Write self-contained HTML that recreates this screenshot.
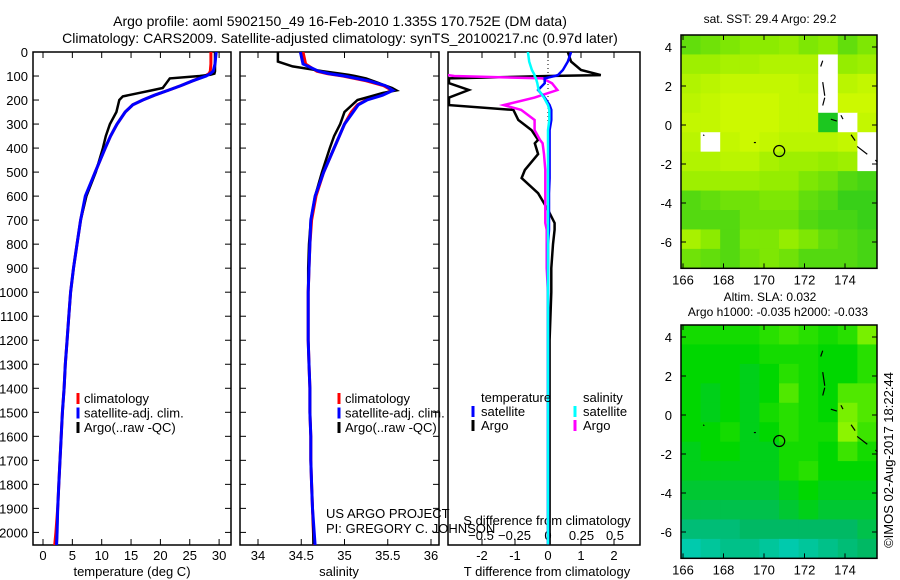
<!DOCTYPE html>
<html><head><meta charset="utf-8">
<style>
body{margin:0;background:#fff;}
svg{display:block;font-family:"Liberation Sans",sans-serif;}
text{font-size:13px;fill:#000;}
</style></head>
<body>
<svg id="chart" width="900" height="580" viewBox="0 0 900 580">
<defs>
<clipPath id="c1"><rect x="33" y="52" width="198" height="493"/></clipPath>
<clipPath id="c2"><rect x="240" y="52" width="199" height="493"/></clipPath>
<clipPath id="c3"><rect x="448" y="52" width="192" height="493"/></clipPath>
</defs>
<text x="340" y="26" text-anchor="middle" style="font-size:14px">Argo profile: aoml 5902150_49 16-Feb-2010 1.335S 170.752E (DM data)</text>
<text x="340" y="43" text-anchor="middle" style="font-size:14px">Climatology: CARS2009. Satellite-adjusted climatology: synTS_20100217.nc (0.97d later)</text>
<g id="g"></g>
</svg>
<script>
// ---------- data ----------
const depthTick=[0,100,200,300,400,500,600,700,800,900,1000,1100,1200,1300,1400,1500,1600,1700,1800,1900,2000];
const tempTicks=[0,5,10,15,20,25,30];
const salTicks=[34,34.5,35,35.5,36];
const tdTicks=[-2,-1,0,1,2];
const sdTicks=[-0.5,-0.25,0,0.25,0.5];

const zClim=[0,50,80,90,100,120,140,160,180,200,220,250,300,350,400,500,600,700,800,900,1000,1100,1200,1300,1400,1500,1600,1700,1800,1900,2000,2053];
const tClimRed=[28.6,28.6,28.5,28.3,27.6,25.5,23.5,21.3,19,17,15.3,14,12.6,11.5,10.6,8.9,7.3,6.4,5.8,5.2,4.7,4.4,4.1,3.8,3.6,3.3,3.1,2.9,2.7,2.5,2.2,2.0];
const tClimBlue=[29.5,29.3,29,28.5,27.8,25.5,23.5,21.3,19,17,15.3,14,12.6,11.5,10.6,8.9,7.2,6.4,5.8,5.2,4.7,4.4,4.1,3.8,3.6,3.3,3.1,2.9,2.7,2.5,2.4,2.3];
const sClimRed=[34.52,34.55,34.68,34.8,34.98,35.25,35.45,35.55,35.42,35.25,35.15,35.08,35.0,34.94,34.88,34.76,34.67,34.62,34.6,34.59,34.58,34.58,34.58,34.59,34.6,34.6,34.61,34.61,34.62,34.63,34.64,34.65];
const sClimBlue=[34.49,34.52,34.7,34.82,35.0,35.28,35.47,35.56,35.44,35.26,35.16,35.1,35.0,34.94,34.88,34.76,34.66,34.61,34.6,34.59,34.58,34.58,34.58,34.59,34.6,34.6,34.61,34.61,34.62,34.63,34.65,34.66];

const zArgo=[0,40,60,80,90,95,100,110,130,150,160,170,185,200,250,300,350,400,500,600,700,800,900,1000,1100,1200,1300,1400,1500,1600,1700,1800,1900,2000,2050];
const tArgo=[29.3,29.3,29.3,29.3,29.2,28.5,26.7,21.6,21,20.4,18.5,16.5,13.6,13,12.5,11.4,10.7,10.2,9.0,7.4,6.4,5.8,5.2,4.7,4.4,4.1,3.8,3.6,3.3,3.1,2.9,2.7,2.5,2.4,2.35];
const sArgo=[34.23,34.23,34.4,34.75,34.95,35.05,35.12,35.25,35.4,35.55,35.6,35.45,35.3,35.15,35.0,34.95,34.88,34.83,34.74,34.66,34.61,34.59,34.58,34.58,34.58,34.58,34.59,34.6,34.6,34.61,34.61,34.62,34.63,34.64,34.64];

const zDiff=[0,40,75,96,100,110,130,158,190,221,241,283,325,366,380,425,491,525,588,657,712,740,800,900,1000,1200,1500,1800,2050];
const dTArgo=[0.6,0.7,1.0,1.6,0,-3,-3,-2.4,-3,-3,-1.05,-0.9,-0.5,-0.3,-0.4,-0.3,-0.7,-0.8,-0.3,0,0.2,0.2,0.15,0.1,0.1,0.05,0.05,0.05,0.05];
const dTSat=[0.7,0.6,0.45,0.3,0.2,-0.1,-0.1,-0.3,-0.1,0.05,0.1,0.1,0.05,0.05,0.05,0.05,0.05,0.05,0.03,0.03,0.03,0.03,0,0,0,0,0,0,0];
const dSArgo=[-1,-1,-1,-0.75,-0.7,-0.04,0.03,0.07,-0.1,-0.33,-0.2,-0.1,-0.1,-0.06,-0.04,-0.03,-0.02,-0.02,-0.02,-0.02,-0.02,-0.01,-0.01,-0.01,0,0,0,0,0];
const dSSat=[-0.15,-0.14,-0.12,-0.1,-0.1,-0.09,-0.08,-0.07,-0.03,0,0.01,0.01,0,0,0,0,0,0,0,0,0,0,0,0,0,0,0,0,0];

const latTicks=[4,2,0,-2,-4,-6];
const lonTicks=[166,168,170,172,174];
const sstGrid=[
[0.35,0.4,0.45,0.5,0.5,0.55,0.45,0.5,0.35,0.45],
[0.6,0.6,0.65,0.65,0.7,0.7,0.7,-1,0.55,0.6],
[0.7,0.75,0.8,0.8,0.8,0.8,0.75,-1,0.75,0.8],
[0.75,0.8,0.85,0.85,0.85,0.8,0.8,-1,0.85,0.85],
[0.8,0.8,0.85,0.85,0.85,0.8,0.8,0.1,-1,0.8],
[0.75,-1,0.8,0.85,0.8,0.75,0.75,0.75,0.8,-1],
[0.7,0.7,0.75,0.75,0.65,0.6,0.6,0.55,0.6,-1],
[0.6,0.6,0.6,0.6,0.55,0.55,0.45,0.4,0.3,0.25],
[0.3,0.35,0.4,0.4,0.45,0.45,0.35,0.3,0.2,0.2],
[0.3,0.3,0.3,0.4,0.4,0.4,0.3,0.25,0.25,0.2],
[0.65,0.5,0.3,0.45,0.45,0.55,0.45,0.35,0.3,0.25],
[0.4,0.35,0.3,0.4,0.45,0.4,0.3,0.3,0.3,0.25]];
const slaGrid=[
[0.55,0.55,0.55,0.55,0.6,0.65,0.6,0.55,0.6,0.8],
[0.5,0.5,0.5,0.5,0.55,0.55,0.55,0.5,0.5,0.6],
[0.5,0.5,0.5,0.45,0.5,0.6,0.55,0.5,0.5,0.6],
[0.5,0.45,0.5,0.45,0.5,0.7,0.55,0.5,0.7,0.7],
[0.5,0.45,0.5,0.45,0.55,0.6,0.55,0.5,0.8,0.7],
[0.5,0.5,0.55,0.45,0.5,0.6,0.55,0.55,0.85,0.65],
[0.45,0.5,0.5,0.45,0.45,0.55,0.55,0.5,0.65,0.55],
[0.45,0.45,0.45,0.45,0.45,0.55,0.6,0.5,0.5,0.5],
[0.4,0.4,0.4,0.4,0.4,0.45,0.5,0.45,0.45,0.45],
[0.35,0.35,0.35,0.35,0.35,0.4,0.45,0.4,0.4,0.4],
[0.25,0.25,0.25,0.3,0.3,0.3,0.3,0.3,0.3,0.35],
[0.1,0.15,0.2,0.2,0.15,0.1,0.15,0.2,0.25,0.3]];
const argoLon=170.752, argoLat=-1.335;

// ---------- helpers ----------
const NS="http://www.w3.org/2000/svg";
const G=document.getElementById('g');
function mk(tag,attrs,parent){const e=document.createElementNS(NS,tag);for(const k in attrs)e.setAttribute(k,attrs[k]);(parent||G).appendChild(e);return e;}
function txt(x,y,s,anchor,parent){const t=mk('text',{x:x,y:y,'text-anchor':anchor||'start'},parent);t.textContent=s;return t;}
const yD=d=>52+d*0.2402;
const xT=t=>43+t*5.87;
const xS=s=>258+(s-34)*86.5;
const xDT=v=>548+v*33;
const xDS=v=>548+v*134;
function line(xs,zs,xf,color,w,clip,name){
  const pts=xs.map((v,i)=>xf(v).toFixed(1)+','+yD(zs[i]).toFixed(1)).join(' ');
  const p=mk('polyline',{points:pts,fill:'none',stroke:color,'stroke-width':w,'clip-path':'url(#'+clip+')'});
  
  
}
function frame(x0,x1,name){
  const r=mk('rect',{x:x0,y:52,width:x1-x0,height:493,fill:'none',stroke:'#000','stroke-width':1.5});
  
  
  depthTick.forEach(d=>{mk('line',{x1:x0,x2:x0+6,y1:yD(d),y2:yD(d),stroke:'#000'});mk('line',{x1:x1-6,x2:x1,y1:yD(d),y2:yD(d),stroke:'#000'});});
}
function xticks(vals,xf,labY,top,fmt){
  vals.forEach(v=>{const x=xf(v);mk('line',{x1:x,x2:x,y1:539,y2:545,stroke:'#000'});if(top)mk('line',{x1:x,x2:x,y1:52,y2:58,stroke:'#000'});
    const t=txt(x,labY,fmt?fmt(v):String(v),'middle');
    
    });
}

// ---------- panel 1 ----------
frame(33,231,'temperature-panel');
depthTick.forEach(d=>{const t=txt(28,yD(d)+5,String(d),'end');
  
  });
xticks(tempTicks,xT,560,true);
let t1=txt(132,576,'temperature (deg C)','middle');


line(tClimRed,zClim,xT,'#f00',3,'c1','temp-climatology-line');
line(tArgo,zArgo,xT,'#000',2.5,'c1','temp-argo-line');
line(tClimBlue,zClim,xT,'#00f',3,'c1','temp-satellite-line');

// ---------- panel 2 ----------
frame(240,439,'salinity-panel');
xticks(salTicks,xS,560,true);
let t2=txt(339,576,'salinity','middle');


line(sClimRed,zClim,xS,'#f00',3,'c2','sal-climatology-line');
line(sArgo,zArgo,xS,'#000',2.5,'c2','sal-argo-line');
line(sClimBlue,zClim,xS,'#00f',3,'c2','sal-satellite-line');
txt(326,518,'US ARGO PROJECT');
txt(326,533,'PI: GREGORY C. JOHNSON');

function legend(x,y,name){
  const items=[['#f00','climatology'],['#00f','satellite-adj. clim.'],['#000','Argo(..raw -QC)']];
  items.forEach((it,i)=>{const yy=y+i*14.5;
    mk('line',{x1:x,x2:x,y1:yy-10,y2:yy+1,stroke:it[0],'stroke-width':3});
    const t=txt(x+6,yy,it[1]);
    
    });
}
legend(78,403,'temp-legend');
legend(339,403,'sal-legend');

// ---------- panel 3 ----------
const r3=mk('rect',{x:448,y:52,width:192,height:493,fill:'none',stroke:'#000','stroke-width':1.5});


mk('line',{x1:548,x2:548,y1:52,y2:130,stroke:'#000','stroke-dasharray':'1,3'});
tdTicks.forEach(v=>{const x=xDT(v);mk('line',{x1:x,x2:x,y1:539,y2:545,stroke:'#000'});mk('line',{x1:x,x2:x,y1:52,y2:58,stroke:'#000'});
  const t=txt(x,560,String(v),'middle');
  
  });
sdTicks.forEach(v=>{const t=txt(xDS(v),540,String(v).replace('0.','0.').replace('-','\u2212'),'middle');
  
  });
let t3=txt(547,576,'T difference from climatology','middle');


let t4=txt(547,525,'S difference from climatology','middle');


line(dTArgo,zDiff,xDT,'#000',2.5,'c3','t-diff-argo-line');
line(dSArgo,zDiff,xDS,'#f0f',2.5,'c3','s-diff-argo-line');
line(dTSat,zDiff,xDT,'#00f',2.5,'c3','t-diff-satellite-line');
line(dSSat,zDiff,xDS,'#0ff',2.5,'c3','s-diff-satellite-line');
txt(481,402,'temperature');txt(583,402,'salinity');
[['#00f','satellite',473,416],['#000','Argo',473,430],['#0ff','satellite',575,416],['#f0f','Argo',575,430]].forEach(it=>{
  mk('line',{x1:it[2],x2:it[2],y1:it[3]-10,y2:it[3]+1,stroke:it[0],'stroke-width':3});
  const t=txt(it[2]+8,it[3],it[1]);
  
  });

// ---------- maps ----------
function lerpC(stops,v){for(let i=1;i<stops.length;i++){if(v<=stops[i][0]){const a=stops[i-1],b=stops[i],f=(v-a[0])/(b[0]-a[0]);
  return 'rgb('+[0,1,2].map(k=>Math.round(a[1][k]+(b[1][k]-a[1][k])*f)).join(',')+')';}}const l=stops[stops.length-1][1];return 'rgb('+l.join(',')+')';}
const sstStops=[[0,[0,190,40]],[0.5,[140,235,0]],[1,[232,255,0]]];
const slaStops=[[0,[0,210,210]],[0.3,[0,185,100]],[0.5,[0,215,0]],[0.7,[80,232,0]],[1,[200,255,0]]];
function map(top,grid,stops,name){
  const x0=681,x1=877,lat0=4.65,latScale=19.5;
  const yL=l=>top+12+(4-l)*latScale;
  const xL=l=>683+(l-166)*20.25;
  const bottom=yL(-7.35);
  const cw=(x1-x0)/10, ch=(bottom-top)/12;
  const g=mk('g',{});
  
  
  grid.forEach((row,r)=>row.forEach((v,c)=>{
    const cell=mk('rect',{x:x0+c*cw,y:top+r*ch,width:cw+0.5,height:ch+0.5,fill:v<0?'#fff':lerpC(stops,v)},g);
    
    
  }));
  // coast
  [[172.9,3.3,172.8,3.0],[172.9,2.2,173.0,1.5],[173.0,1.4,172.9,1.0],[173.3,0.3,173.6,0.2],[173.8,0.5,173.9,0.3],[174.3,-0.5,174.5,-0.8],[174.6,-1.1,175.1,-1.5],[175.5,-1.8,175.6,-1.9],[167.0,-0.5,167.05,-0.55],[169.5,-0.9,169.6,-0.9]].forEach(s=>{
    mk('line',{x1:xL(s[0]),y1:yL(s[1]),x2:xL(s[2]),y2:yL(s[3]),stroke:'#000','stroke-width':1.2},g);});
  const r=mk('rect',{x:x0,y:top,width:x1-x0,height:bottom-top,fill:'none',stroke:'#000','stroke-width':1.5},g);
  const m=mk('circle',{cx:xL(argoLon),cy:yL(argoLat),r:5.5,fill:'none',stroke:'#000','stroke-width':1.2},g);
  
  
  latTicks.forEach(l=>{const y=yL(l);mk('line',{x1:x0,x2:x0+5,y1:y,y2:y,stroke:'#000'},g);mk('line',{x1:x1-5,x2:x1,y1:y,y2:y,stroke:'#000'},g);
    const t=txt(672,y+5,String(l).replace('-','-'),'end',g);
    
    });
  lonTicks.forEach(l=>{const x=xL(l);mk('line',{x1:x,x2:x,y1:top,y2:top+5,stroke:'#000'},g);mk('line',{x1:x,x2:x,y1:bottom-5,y2:bottom,stroke:'#000'},g);
    const t=txt(x,bottom+16,String(l),'middle',g);
    
    });
}
map(35,sstGrid,sstStops,'sst-map');
map(325,slaGrid,slaStops,'sla-map');
let m1=txt(770,23,'sat. SST: 29.4  Argo: 29.2','middle');m1.style.fontSize='12px';


let m2=txt(770,301,'Altim. SLA: 0.032','middle');m2.style.fontSize='12px';


let m3=txt(778,316,'Argo h1000: -0.035 h2000: -0.033','middle');m3.style.fontSize='12px';


let cr=txt(0,0,'©IMOS 02-Aug-2017 18:22:44','middle');
cr.setAttribute('transform','translate(893,460) rotate(-90)');


</script>
</body></html>
